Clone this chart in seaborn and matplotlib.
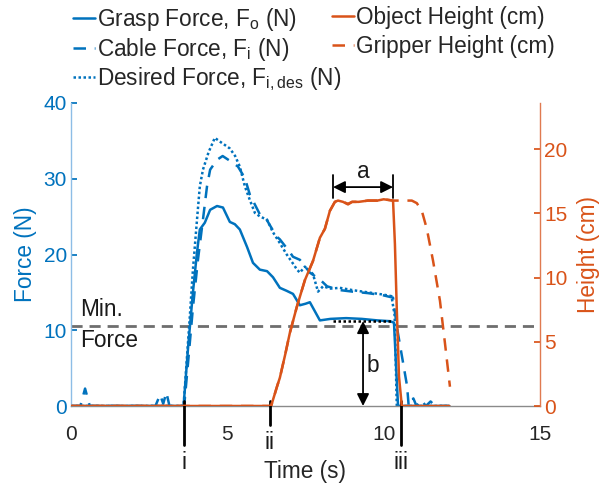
import numpy as np
import pandas as pd
import matplotlib
matplotlib.use("Agg")
import matplotlib.pyplot as plt
import seaborn as sns

# ---------------- data ----------------
grasp_t = [0, 3.6, 3.75, 3.9, 4.03, 4.12, 4.28, 4.45, 4.67, 4.86, 5.08, 5.24, 5.4, 5.63, 5.82,
           6.04, 6.27, 6.46, 6.68, 6.9, 7.1, 7.32, 7.5, 7.64, 7.8, 7.96, 8.3, 8.8, 9.3, 9.8,
           10.2, 10.33, 10.4, 10.46, 12.1]
grasp_f = [0, 0, 8, 15, 20.3, 23.3, 24.2, 25.9, 26.4, 26.2, 24.3, 24.0, 23.3, 21.0, 18.9,
           18.0, 17.8, 17.0, 15.6, 15.2, 14.8, 13.3, 13.5, 13.7, 12.5, 11.3, 11.5, 11.6, 11.5, 11.3,
           11.2, 11.0, 5, 0, 0]

cable_t = [0, 0.3, 0.45, 0.6, 2.7, 2.85, 2.95, 3.05, 3.15, 3.62, 3.75, 3.9, 4.06, 4.22, 4.35,
           4.45, 4.67, 4.85, 5.18, 5.34, 5.56, 5.72, 6.04, 6.2, 6.57, 6.68, 7.0, 7.1, 7.32, 7.64,
           7.96, 8.19, 8.6, 9.0, 9.5, 10.0, 10.3, 10.42, 10.6, 10.75, 10.8, 10.95, 11.05, 11.2,
           11.35, 11.5, 11.65, 12.1]
cable_f = [0, 0, 2.3, 0, 0, 1.5, 0.3, 1.8, 0, 0, 6, 13, 19.3, 24.6, 29,
           31.2, 32.5, 33.0, 32.1, 31.6, 30.1, 27.9, 25.3, 25.0, 22.4, 22.0, 20.3, 19.7, 19.3, 17.6,
           16.7, 15.8, 15.3, 15.1, 14.9, 14.6, 14.3, 10.5, 6.2, 2.6, 0, 1.0, 0, 0.8,
           0, 0.6, 0, 0]

desired_t = [0, 3.6, 3.8, 3.9, 4.03, 4.12, 4.22, 4.4, 4.6, 4.8, 5.08, 5.25, 5.4, 5.56, 5.72,
             5.88, 6.05, 6.27, 6.45, 6.68, 6.9, 7.1, 7.23, 7.32, 7.48, 7.6, 7.74, 7.9, 8.06,
             8.3, 8.6, 9.0, 9.5, 10.0, 10.25, 10.35, 10.42, 12.1]
desired_f = [0, 0, 11.8, 18, 24.6, 29, 31.2, 33.5, 35.4, 34.8, 34.0, 33.0, 31.6, 29.0, 27.2,
             25.5, 25.0, 24.6, 23.0, 21.5, 20.0, 18.8, 18.0, 17.6, 18.4, 18.0, 17.4, 15.1, 15.8,
             15.5, 15.6, 15.3, 15.0, 14.7, 14.5, 12.0, 0, 0]

object_t = [0, 6.4, 6.5, 6.6, 6.68, 6.85, 7.0, 7.22, 7.48, 7.74, 7.96, 8.12, 8.28, 8.44, 8.54,
            8.7, 8.86, 8.99, 9.2, 9.5, 9.8, 10.0, 10.3, 10.36, 10.42, 10.49, 10.58, 12.1]
object_h = [0, 0, 0.8, 1.6, 2.2, 4.0, 5.7, 7.7, 9.8, 11.3, 13.1, 13.8, 15.2, 15.9, 16.0,
            15.9, 15.7, 15.9, 15.9, 16.0, 16.0, 16.1, 16.0, 12.6, 7.5, 2.3, 0, 0]

gripper_t = [0, 6.4, 6.5, 6.6, 6.68, 6.85, 7.0, 7.22, 7.48, 7.74, 7.96, 8.12, 8.28, 8.44, 8.54,
             8.7, 8.86, 8.99, 9.2, 9.5, 9.8, 10.0, 10.3, 10.62, 10.9, 11.06, 11.22, 11.38, 11.58,
             11.8, 11.96, 12.12]
gripper_h = [0, 0, 0.8, 1.6, 2.2, 4.0, 5.7, 7.7, 9.8, 11.3, 13.1, 13.8, 15.2, 15.9, 16.0,
             15.9, 15.75, 15.9, 15.9, 16.0, 16.0, 16.1, 16.0, 16.0, 16.0, 15.8, 15.2, 13.8, 11.3,
             8.2, 4.9, 1.5]

min_force = 10.5
x_ticks = [0, 5, 10, 15]
force_ticks = [0, 10, 20, 30, 40]
height_ticks = [0, 5, 10, 15, 20]
event_times = [3.6, 6.36, 10.55]
event_labels = ["i", "ii", "iii"]

BLUE = "#0072BD"
ORANGE = "#D95319"

# ---------------- style ----------------
sns.set_theme(style="white")
plt.rcParams["font.family"] = ["Liberation Sans", "DejaVu Sans"]
plt.rcParams["mathtext.default"] = "regular"
FS = 15     # tick labels
LFS = 16.3  # labels, legend, annotations

fig = plt.figure(figsize=(6.03, 4.87), dpi=100)
ax = fig.add_axes([71 / 603, 1 - 406 / 487, (540 - 71) / 603, (406 - 103) / 487])
ax2 = ax.twinx()

lw = 1.8
df_g = pd.DataFrame({"t": grasp_t, "v": grasp_f})
df_c = pd.DataFrame({"t": cable_t, "v": cable_f})
df_d = pd.DataFrame({"t": desired_t, "v": desired_f})
df_o = pd.DataFrame({"t": object_t, "v": object_h})
df_r = pd.DataFrame({"t": gripper_t, "v": gripper_h})

sns.lineplot(data=df_g, x="t", y="v", ax=ax, color=BLUE, lw=lw, sort=False, estimator=None,
             label=r"Grasp Force, F$_o$ (N)", legend=False)
sns.lineplot(data=df_c, x="t", y="v", ax=ax, color=BLUE, lw=lw, sort=False, estimator=None,
             linestyle=(0, (5, 3.5)), label=r"Cable Force, F$_i$ (N)", legend=False)
sns.lineplot(data=df_d, x="t", y="v", ax=ax, color=BLUE, lw=lw, sort=False, estimator=None,
             linestyle=(0, (1, 1)), label=r"Desired Force, F$_{i,des}$ (N)", legend=False)

sns.lineplot(data=df_r, x="t", y="v", ax=ax2, color=ORANGE, lw=lw, sort=False, estimator=None,
             linestyle=(0, (5, 3.5)), label="Gripper Height (cm)", legend=False)
sns.lineplot(data=df_o, x="t", y="v", ax=ax2, color=ORANGE, lw=lw, sort=False, estimator=None,
             label="Object Height (cm)", legend=False)

# min force line
ax.axhline(min_force, color="#6e6e6e", lw=2, linestyle=(0, (4, 2.5)), zorder=1)
ax.text(0.3, min_force + 2.3, "Min.", fontsize=LFS, color="#1a1a1a", va="center", ha="left")
ax.text(0.3, min_force - 1.8, "Force", fontsize=LFS, color="#1a1a1a", va="center", ha="left")

# black dotted at sustained grasp
ax.plot([8.38, 10.3], [11.2, 11.2], color="black", lw=1.8, linestyle=(0, (1, 1)), zorder=3)

# arrow a (on height axis)
ya = 17.05
ax2.annotate("", xy=(8.38, ya), xytext=(10.3, ya),
             arrowprops=dict(arrowstyle="<|-|>", color="black", lw=1.3, mutation_scale=18,
                             shrinkA=0, shrinkB=0))
ax2.plot([8.38, 8.38], [16.2, 18.0], color="black", lw=1.3)
ax2.plot([10.3, 10.3], [16.2, 18.0], color="black", lw=1.3)
ax2.text(9.34, 18.3, "a", fontsize=LFS, ha="center", va="center", color="#1a1a1a")

# arrow b (on force axis)
ax.annotate("", xy=(9.34, 11.2), xytext=(9.34, 0),
            arrowprops=dict(arrowstyle="<|-|>", color="black", lw=1.3, mutation_scale=18,
                            shrinkA=0, shrinkB=0))
ax.text(9.45, 5.3, "b", fontsize=LFS, ha="left", va="center", color="#1a1a1a")

# event markers below axis
ends = [-5.2, -2.5, -5.2]
lab_y = [-7.5, -4.8, -7.4]
for tt, lab, e, ly in zip(event_times, event_labels, ends, lab_y):
    ax.plot([tt, tt], [0.6, e], color="black", lw=2, clip_on=False, zorder=5)
    ax.text(tt, ly, lab, fontsize=LFS, ha="center", va="center", color="#1a1a1a")

# axes formatting
ax.set_xlim(0, 15)
ax.set_ylim(0, 40)
ax2.set_ylim(0, 23.6)
ax.set_xticks(x_ticks)
ax.set_yticks(force_ticks)
ax2.set_yticks(height_ticks)
ax.set_xlabel("Time (s)", fontsize=LFS, color="#262626", labelpad=11)
ax.set_ylabel("Force (N)", fontsize=LFS, color=BLUE, labelpad=5)
ax2.set_ylabel("Height (cm)", fontsize=LFS, color=ORANGE, labelpad=7)

ax.tick_params(axis="x", direction="in", length=4, colors="#262626", labelsize=FS, pad=14,
               color="#808080")
ax.tick_params(axis="y", direction="in", length=4, colors=BLUE, labelsize=FS, pad=3)
ax2.tick_params(axis="y", direction="in", length=4, colors=ORANGE, labelsize=FS, pad=3)

for a in (ax, ax2):
    a.spines["top"].set_visible(False)
    a.grid(False)
    a.set_facecolor("none")
ax.spines["left"].set_color("#8dbde6")
ax.spines["right"].set_visible(False)
ax.spines["bottom"].set_color("#8a8a8a")
ax2.spines["right"].set_color("#e07a50")
ax2.spines["left"].set_visible(False)
ax2.spines["bottom"].set_visible(False)
for a in (ax, ax2):
    for s in a.spines.values():
        s.set_linewidth(1.0)

# legend (two separate columns)
h1, l1 = ax.get_legend_handles_labels()
h2, l2 = ax2.get_legend_handles_labels()
hmap = dict(zip(l1 + l2, h1 + h2))
col1 = [r"Grasp Force, F$_o$ (N)", r"Cable Force, F$_i$ (N)", r"Desired Force, F$_{i,des}$ (N)"]
col2 = ["Object Height (cm)", "Gripper Height (cm)"]
common = dict(loc="upper left", frameon=False, fontsize=LFS, handlelength=0.95,
              handletextpad=0.1, borderaxespad=0, borderpad=0)
fig.legend([hmap[k] for k in col1], col1, bbox_to_anchor=(73 / 603, 0.988),
           labelspacing=0.12, **common)
fig.legend([hmap[k] for k in col2], col2, bbox_to_anchor=(332 / 603, 0.988),
           labelspacing=0.28, **common)

fig.savefig("out.png", dpi=100)
